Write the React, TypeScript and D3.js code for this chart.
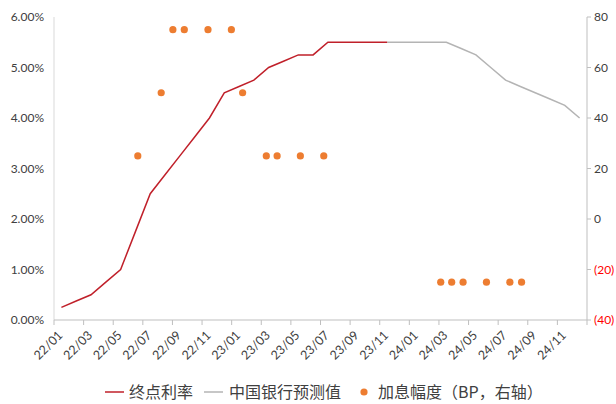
import * as d3 from 'd3';

// monthly categories 22/01 .. 24/12
const months: string[] = [];
for (const y of ['22', '23', '24']) {
  for (let m = 1; m <= 12; m++) months.push(`${y}/${String(m).padStart(2, '0')}`);
}

// 终点利率 (%), 22/01 .. 23/11
const terminalRate = [
  0.25, 0.375, 0.5, 0.75, 1.0, 1.75, 2.5, 2.875, 3.25, 3.625, 4.0, 4.5,
  4.625, 4.75, 5.0, 5.125, 5.25, 5.25, 5.5, 5.5, 5.5, 5.5, 5.5,
];
// 中国银行预测值 (%), 23/11 .. 24/12
const forecastStart = 22;
const forecastRate = [
  5.5, 5.5, 5.5, 5.5, 5.5, 5.375, 5.25, 5.0, 4.75, 4.625, 4.5, 4.375, 4.25, 4.0,
];
// 加息幅度 (BP, 右轴): position in month units from 22/01, and size
const hikePos = [
  5.16, 6.74, 7.53, 8.3, 9.9, 11.48, 12.24, 13.84, 14.57, 16.14, 17.72,
  25.62, 26.36, 27.13, 28.71, 30.29, 31.08,
];
const hikeBp = [25, 50, 75, 75, 75, 75, 50, 25, 25, 25, 25, -25, -25, -25, -25, -25, -25];

const leftTicks = [0, 1, 2, 3, 4, 5, 6];
const rightTicks = [80, 60, 40, 20, 0, -20, -40];

const W = 616;
const H = 404;
const margin = { left: 54, right: 29, top: 17, bottom: 84 };
const RED = '#C0202A';
const GREY = '#B4B4B4';
const ORANGE = '#ED7D31';
const AXIS = '#BFBFBF';
const TEXT = '#404040';
const FONT = 'Lato, "Open Sans", sans-serif';
const CJK = '"Noto Sans CJK SC", "Noto Sans", sans-serif';

export default function App() {
  const x0 = margin.left;
  const x1 = W - margin.right;
  const y0 = H - margin.bottom;
  const yTop = margin.top;

  const band = d3.scaleBand<string>().domain(months).range([x0, x1]).padding(0);
  const cx = (i: number) => (band(months[i]) ?? 0) + band.bandwidth() / 2;
  const posX = d3
    .scaleLinear()
    .domain([0, months.length - 1])
    .range([cx(0), cx(months.length - 1)]);

  const yL = d3.scaleLinear().domain([0, 6]).range([y0, yTop]);
  const yR = d3.scaleLinear().domain([-40, 80]).range([y0, yTop]);

  const lineGen = d3
    .line<[number, number]>()
    .x((d) => d[0])
    .y((d) => d[1]);

  const redPath = lineGen(terminalRate.map((v, i) => [cx(i), yL(v)]));
  const greyPath = lineGen(forecastRate.map((v, i) => [cx(i + forecastStart), yL(v)]));

  const tickIdx = d3.range(0, months.length + 1, 2);
  const labelIdx = d3.range(0, months.length, 2);

  return (
    <svg
      width={W}
      height={H}
      style={{ position: 'absolute', left: 0, top: 0, background: '#fff' }}
    >
      {/* left axis */}
      <line x1={x0} x2={x0} y1={yTop} y2={y0} stroke="#D9D9D9" strokeWidth={1} />
      {leftTicks.map((t) => (
        <text
          key={t}
          x={x0 - 10}
          y={yL(t)}
          dy="0.35em"
          textAnchor="end"
          fontFamily={FONT}
          fontSize={12}
          fill={TEXT}
        >
          {t.toFixed(2)}%
        </text>
      ))}

      {/* right axis */}
      <line x1={x1} x2={x1} y1={yTop} y2={y0} stroke={AXIS} strokeWidth={1} />
      {rightTicks.map((t) => (
        <g key={t}>
          <line x1={x1} x2={x1 + 4} y1={yR(t)} y2={yR(t)} stroke={AXIS} />
          <text
            x={x1 + 7}
            y={yR(t)}
            dy="0.35em"
            fontFamily={FONT}
            fontSize={12}
            fill={t < 0 ? '#FF0000' : TEXT}
          >
            {t < 0 ? `(${-t})` : t}
          </text>
        </g>
      ))}

      {/* x axis */}
      <line x1={x0} x2={x1} y1={y0} y2={y0} stroke={AXIS} strokeWidth={1} />
      {tickIdx.map((i) => {
        const x = i < months.length ? band(months[i]) ?? 0 : x1;
        return <line key={i} x1={x} x2={x} y1={y0} y2={y0 + 5} stroke={AXIS} />;
      })}
      {labelIdx.map((i) => (
        <text
          key={i}
          transform={`translate(${cx(i) - 1},${y0 + 13}) rotate(-45)`}
          textAnchor="end"
          dy="0.35em"
          fontFamily={FONT}
          fontSize={12.5}
          fill={TEXT}
        >
          {months[i]}
        </text>
      ))}

      {/* series */}
      <path d={greyPath ?? ''} fill="none" stroke={GREY} strokeWidth={1.5} />
      <path d={redPath ?? ''} fill="none" stroke={RED} strokeWidth={1.5} />
      {hikePos.map((p, i) => (
        <circle key={i} cx={posX(p)} cy={yR(hikeBp[i])} r={3.6} fill={ORANGE} />
      ))}

      {/* legend */}
      <g fontFamily={CJK} fontSize={16} fill={TEXT}>
        <line x1={105} x2={124} y1={392} y2={392} stroke={RED} strokeWidth={1.5} />
        <text x={129} y={392} dy="0.35em">终点利率</text>
        <line x1={204} x2={223} y1={392} y2={392} stroke={GREY} strokeWidth={1.5} />
        <text x={229} y={392} dy="0.35em">中国银行预测值</text>
        <circle cx={364} cy={392} r={3.6} fill={ORANGE} />
        <text x={378} y={392} dy="0.35em">加息幅度（BP，右轴）</text>
      </g>
    </svg>
  );
}
